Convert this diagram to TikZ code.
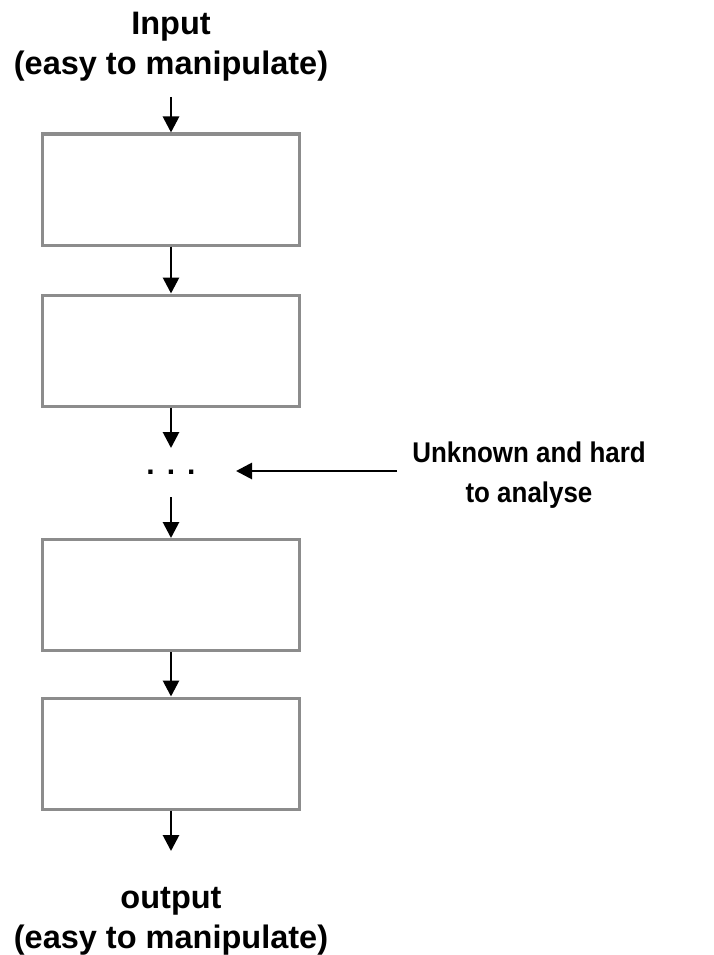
\documentclass[tikz,border=0pt]{standalone}
\usepackage{fontspec}
\setmainfont{Liberation Sans}
\newfontfamily\narrowsans[FakeStretch=0.91]{Liberation Sans}
\usetikzlibrary{arrows.meta}
\definecolor{boxgray}{HTML}{8C8C8C}
\begin{document}
\begin{tikzpicture}[x=1pt,y=-1pt,
  stagebox/.style={draw=boxgray,line width=3pt,fill=white,minimum width=257pt,minimum height=111pt,inner sep=0pt},
  lbl/.style={font=\bfseries\fontsize{32.5}{40}\selectfont,align=center,inner sep=0pt},
  sidelbl/.style={font=\narrowsans\bfseries\fontsize{28.5}{40}\selectfont,align=center,inner sep=0pt},
  arr/.style={line width=2.8pt,-{Triangle[length=16pt,width=16pt]}}]
\useasboundingbox (0,0) rectangle (714,955);
\node[lbl] (in) at (171,47) {Input\\(easy to manipulate)};
\coordinate (inA) at (171,97);
\node[stagebox] (b1) at (171,189.5) {};
\node[stagebox] (b2) at (171,350.5) {};
\node[font=\bfseries\fontsize{30}{30}\selectfont,inner sep=0pt,anchor=base] (dots) at (171,474) {.\hspace{12pt}.\hspace{12pt}.};
\coordinate (dt) at (171,448);
\coordinate (db) at (171,497);
\node[stagebox] (b3) at (171,595) {};
\node[stagebox] (b4) at (171,753.5) {};
\coordinate (outA) at (171,851);
\node[lbl] (out) at (171,921) {output\\(easy to manipulate)};
\node[sidelbl] (unk) at (529,475) {Unknown and hard\\to analyse};
\coordinate (hs) at (397,471);
\coordinate (he) at (236,471);
\draw[arr] (inA) -- (b1.north);
\draw[arr] (b1.south) -- (b2.north);
\draw[arr] (b2.south) -- (dt);
\draw[arr] (db) -- (b3.north);
\draw[arr] (b3.south) -- (b4.north);
\draw[arr] (b4.south) -- (outA);
\draw[arr] (hs) -- (he);
\end{tikzpicture}
\end{document}
